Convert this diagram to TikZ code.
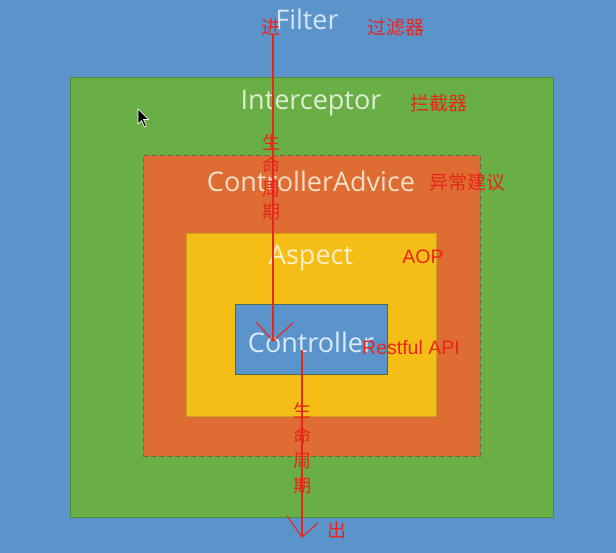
\documentclass[tikz,border=0pt]{standalone}
\usepackage{fontspec}
\setmainfont{Open Sans}
\newfontfamily\cjk{Noto Sans CJK SC}
\newfontfamily\arialf{Liberation Sans}
\usetikzlibrary{calc}
\definecolor{bgblue}{RGB}{91,148,203}
\definecolor{grn}{RGB}{106,174,70}
\definecolor{grnb}{RGB}{78,138,52}
\definecolor{org}{RGB}{223,108,50}
\definecolor{orgb}{RGB}{130,95,70}
\definecolor{ylw}{RGB}{245,190,22}
\definecolor{ylwb}{RGB}{205,160,30}
\definecolor{ctlb}{RGB}{70,105,95}
\definecolor{redc}{RGB}{232,38,28}
\tikzset{
  layer/.style={inner sep=0pt, outer sep=0pt, line width=1pt},
  main/.style={font=\fontsize{27}{30}\selectfont, inner sep=0pt},
  cnlabel/.style={font=\cjk\fontsize{19}{22}\selectfont, text=redc, inner sep=0pt},
  enlabel/.style={font=\arialf\fontsize{19.5}{22}\selectfont, text=redc, inner sep=0pt},
  vlabel/.style={font=\cjk\fontsize{18}{23}\selectfont, text=redc, inner sep=0pt, align=center},
  redline/.style={draw=redc, line width=1.1pt},
}
\begin{document}
\begin{tikzpicture}[x=1pt,y=-1pt]
\useasboundingbox (0,0) rectangle (616,553);
\fill[bgblue] (0,0) rectangle (616,553);
% layers
\node[layer, fill=grn, draw=grnb, minimum width=483pt, minimum height=439pt] (interceptorbox) at (311.5,297.5) {};
\node[layer, fill=org, draw=orgb, dashed, dash pattern=on 5pt off 3pt, minimum width=337pt, minimum height=300pt] (advicebox) at (311.5,306) {};
\node[layer, fill=ylw, draw=ylwb, minimum width=250pt, minimum height=182pt] (aspectbox) at (311,325) {};
\node[layer, fill=bgblue, draw=ctlb, minimum width=152pt, minimum height=70pt] (controllerbox) at (311,340) {};
% main labels
\node[main, text={rgb,255:red,212;green,228;blue,245}] (filtert) at (307,19) {Filter};
\node[main, text={rgb,255:red,222;green,238;blue,212}] (interceptort) at (311,103) {Interceptor};
\node[main, text={rgb,255:red,245;green,222;blue,200}] (advicet) at (311,181) {ControllerAdvice};
\node[main, text={rgb,255:red,255;green,238;blue,200}] (aspectt) at (311,258) {Aspect};
\node[main, text={rgb,255:red,218;green,234;blue,246}] (controllert) at (311,342) {Controller};
% red annotations
\node[cnlabel] (filtercn) at (396,27) {过滤器};
\node[cnlabel] (interceptorcn) at (439,103) {拦截器};
\node[cnlabel] (advicecn) at (467,182) {异常建议};
\node[enlabel] (aop) at (423,257) {AOP};
\node[enlabel] (rest) at (411,348) {Restful API};
\node[cnlabel] (jin) at (271,27) {进};
\node[cnlabel] (chu) at (337,530) {出};
% lifecycle arrows
\coordinate (inStart) at (273,35);
\coordinate (inTip) at (273,341);
\coordinate (outStart) at (302,350);
\coordinate (outTip) at (302,537);
\draw[redline] (inStart) -- (inTip);
\draw[redline] ($(inTip)+(-17,-19)$) -- (inTip) -- ($(inTip)+(20,-18)$);
\draw[redline] (outStart) -- (outTip);
\draw[redline] ($(outTip)+(-15,-21)$) -- (outTip) -- ($(outTip)+(16,-14)$);
\node[vlabel] (life1) at (271,177) {生\\命\\周\\期};
\node[vlabel, font=\cjk\fontsize{18}{25}\selectfont] (life2) at (302,448) {生\\命\\周\\期};
% mouse cursor
\filldraw[fill=black, draw=white, line width=0.6pt] (138,109) -- (138,124) -- (141.5,120.5) -- (144.5,127) -- (146.5,126) -- (143.5,119.5) -- (148.5,119.5) -- cycle;
\end{tikzpicture}
\end{document}
